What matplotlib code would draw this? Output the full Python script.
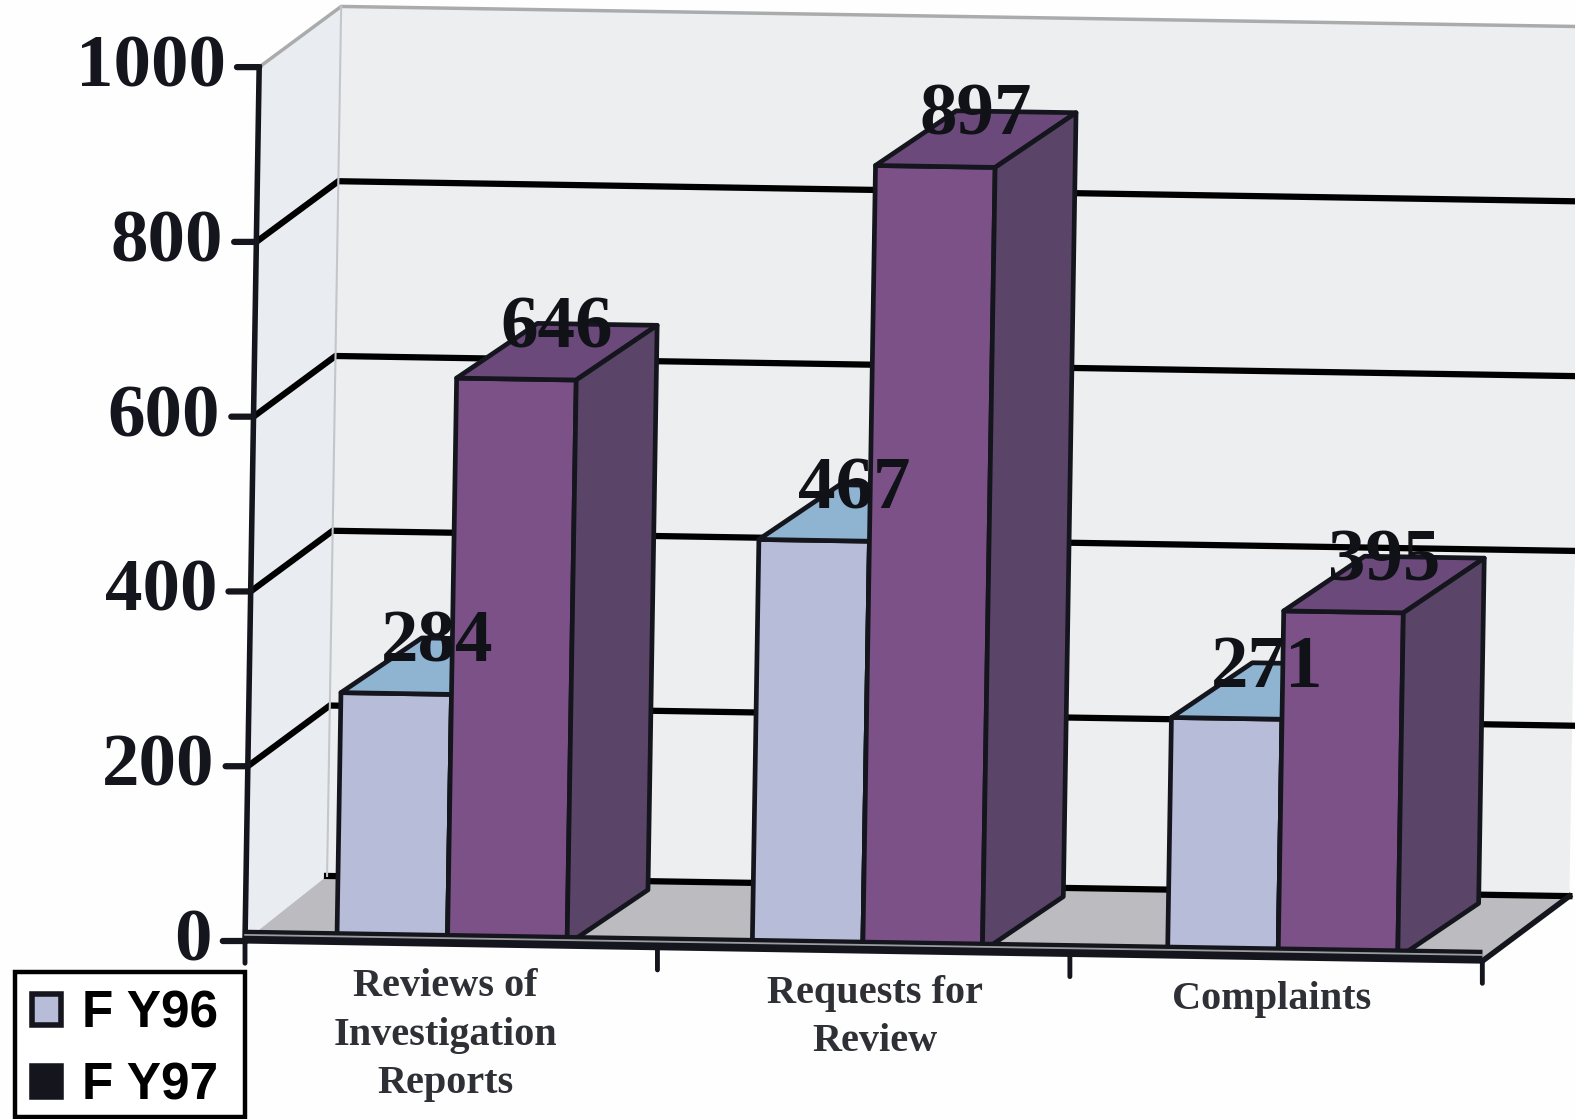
import matplotlib
matplotlib.use("Agg")
import matplotlib.pyplot as plt
from matplotlib.patches import Polygon, Patch, Rectangle
from matplotlib.transforms import Affine2D

categories = ["Reviews of\nInvestigation\nReports", "Requests for\nReview", "Complaints"]
fy96 = [284, 467, 271]
fy97 = [646, 897, 395]
y_ticks = [0, 200, 400, 600, 800, 1000]
series_names = ["F Y96", "F Y97"]

W, H = 1575, 1119
LEFT, BASE = 245, 941          # chart origin, pixels from top left
CAT_PX, VAL_PX = 412.5, 0.874  # pixels per category and per unit
TILT = -0.93                   # the whole chart leans clockwise

# depth of the walls and of the bars, in data units
DEPTH_X, DEPTH_Y = 81 / CAT_PX, 62 / VAL_PX
BAR_DX, BAR_DY = 80 / CAT_PX, 56 / VAL_PX
FLOOR = 5  # the back edge of the floor sits a little above zero

INK = "#15161d"
SERIF = "Liberation Serif"


def shift(x, y, d=1):
    return x + d * DEPTH_X, y + d * DEPTH_Y


def bar_shift(x, y, d):
    return x + d * BAR_DX, y + d * BAR_DY


def box(ax, tf, x0, x1, value, front, top, side, z):
    d0 = 0.03
    d1 = d0 + 1
    fl = bar_shift(x0, 0, d0)
    fr = bar_shift(x1, 0, d0)
    tl = bar_shift(x0, value, d0)
    tr = bar_shift(x1, value, d0)
    bl = bar_shift(x0, value, d1)
    br = bar_shift(x1, value, d1)
    gr = bar_shift(x1, 0, d1)
    faces = [([fl, fr, tr, tl], front), ([tl, tr, br, bl], top), ([fr, gr, br, tr], side)]
    for pts, color in faces:
        ax.add_patch(Polygon(pts, closed=True, facecolor=color, edgecolor=INK, linewidth=3.4,
                             joinstyle="round", transform=tf, zorder=z, clip_on=False))


fig = plt.figure(figsize=(W / 100, H / 100), dpi=100, facecolor="#fefefe")
ax = fig.add_axes([LEFT / W, (H - BASE) / H, CAT_PX * 3 / W, 1000 * VAL_PX / H])
ax.set_xlim(0, 3)
ax.set_ylim(0, 1000)
ax.axis("off")

tf = Affine2D().rotate_deg_around(LEFT, H - BASE, TILT)
tf = ax.transData + tf

# walls and floor
corner = shift(0, FLOOR)
back_top = shift(0, 1000)
right_x = 3.012
right_back = shift(right_x, FLOOR)
ax.add_patch(Polygon([(0, 0), corner, back_top, (0, 1000)], facecolor="#e9ecf0", edgecolor="none",
                     transform=tf, zorder=1, clip_on=False))
ax.add_patch(Polygon([corner, right_back, shift(right_x, 1000), back_top], facecolor="#eceef0", edgecolor="none",
                     transform=tf, zorder=1, clip_on=False))
ax.add_patch(Polygon([(0, 0), (3, 0), right_back, corner], facecolor="#bcbcc0", edgecolor="none",
                     transform=tf, zorder=2, clip_on=False))

# gridlines run along the left wall and then the back wall
for v in y_ticks[1:]:
    b = shift(0, v)
    e = shift(right_x, v)
    color = "#a9abad" if v == 1000 else "black"
    lw = 2.5 if v == 1000 else 4.5
    ax.plot([0, b[0], e[0]], [v, b[1], e[1]], color=color, lw=lw, transform=tf, zorder=3,
            clip_on=False, solid_joinstyle="miter")
ax.plot([corner[0], right_back[0]], [corner[1], right_back[1]], color="black", lw=4.5, transform=tf,
        zorder=3, clip_on=False)
ax.plot([corner[0], back_top[0]], [corner[1], back_top[1]], color="#c3c6ca", lw=1.5, transform=tf,
        zorder=3, clip_on=False)
ax.plot([3, right_back[0]], [0, right_back[1]], color=INK, lw=4, transform=tf, zorder=3, clip_on=False)

# bars, left to right so each one covers the side of the previous
for i, (a, b) in enumerate(zip(fy96, fy97)):
    x0 = i * 1.007 + 0.217
    box(ax, tf, x0, x0 + 0.268, a, "#b7bcd9", "#8fb4d2", "#5c4668", 5 + i * 2)
    box(ax, tf, x0 + 0.268, x0 + 0.558, b, "#7b5187", "#6b4a7b", "#5a4569", 6 + i * 2)

# axes in front of the box
ax.plot([0, 0], [0, 1000], color=INK, lw=4, transform=tf, zorder=15, clip_on=False)
ax.plot([0, 3], [5, 5], color=INK, lw=10, transform=tf, zorder=15, clip_on=False, solid_capstyle="butt")
ax.plot([0, 3], [7, 7], color="#9b9ca0", lw=1.3, transform=tf, zorder=16, clip_on=False)

for v in y_ticks:
    ax.annotate("", xy=(0, v), xycoords=tf, xytext=(-16, 0), textcoords="offset points",
                arrowprops=dict(arrowstyle="-", color=INK, lw=4.5, shrinkA=0, shrinkB=0), zorder=15)
    ax.annotate(str(v), xy=(0, v), xycoords=tf, xytext=(-24, -1), textcoords="offset points",
                ha="right", va="center", fontsize=54, fontweight="bold", family=SERIF, color=INK, zorder=20)

for x in range(4):
    ax.annotate("", xy=(x, 0), xycoords=tf, xytext=(0, -16), textcoords="offset points",
                arrowprops=dict(arrowstyle="-", color=INK, lw=3.5, shrinkA=0, shrinkB=0), zorder=15)

# category labels hang below the axis, not quite centred on their slots
label_dx = [-4, 8, -3]
for i, name in enumerate(categories):
    ax.annotate(name, xy=(i + 0.5, 0), xycoords=tf, xytext=(label_dx[i], -17), textcoords="offset points",
                ha="center", va="top", fontsize=29, fontweight="bold", family=SERIF, color="#2f3036",
                linespacing=1.42, zorder=20)

# value labels sit on the top face of each bar
for i, (a, b) in enumerate(zip(fy96, fy97)):
    x0 = i * 1.007 + 0.217
    for x, v in ((x0 + 0.134, a), (x0 + 0.413, b)):
        ax.annotate(str(v), xy=bar_shift(x, v, 0.53), xycoords=tf, xytext=(0, 16), textcoords="offset points",
                    ha="center", va="center", fontsize=54, fontweight="bold", family=SERIF,
                    color="#111218", zorder=21)

# legend frame is drawn separately so its size does not depend on the text
fig.add_artist(Rectangle((15 / W, 2 / H), 230 / W, 145 / H, transform=fig.transFigure, facecolor="white",
                         edgecolor="black", linewidth=3.2, zorder=29))
handles = [Patch(facecolor="#b7bcd9", edgecolor=INK, linewidth=4),
           Patch(facecolor=INK, edgecolor=INK, linewidth=4)]
leg = fig.legend(handles, series_names, loc="lower left", bbox_to_anchor=(32 / W, 8 / H), borderaxespad=0,
                 frameon=False, prop=dict(family="Liberation Sans", weight="bold", size=37),
                 handlelength=0.56, handleheight=0.56, handletextpad=0.42, labelspacing=0.46, borderpad=0)
leg.set_zorder(30)

fig.savefig("out.png", dpi=100)
